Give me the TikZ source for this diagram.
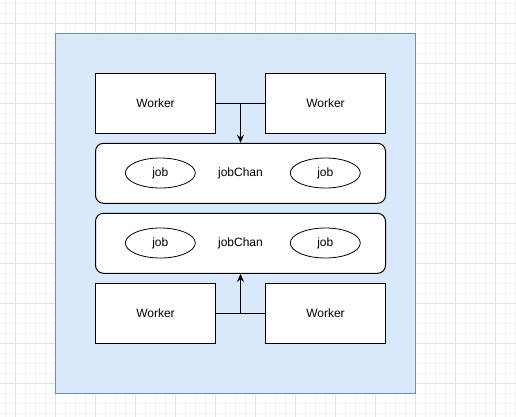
\documentclass[tikz,border=0pt]{standalone}
\usepackage{fontspec}
\setmainfont{Liberation Sans}
\usetikzlibrary{positioning,shapes.geometric,arrows.meta}

\definecolor{paneblue}{HTML}{DAE8FC}
\definecolor{paneline}{HTML}{6C8EBF}
\definecolor{gridmajor}{HTML}{E3E3E3}
\definecolor{gridminor}{HTML}{F4F4F4}

\tikzset{
  worker/.style={draw,fill=white,line width=1pt,minimum width=120pt,minimum height=60pt,font=\fontsize{12}{14}\selectfont},
  chan/.style={draw,fill=white,line width=1pt,rounded corners=8pt,minimum width=290pt,minimum height=60pt,font=\fontsize{12}{14}\selectfont},
  job/.style={draw,ellipse,fill=white,line width=0.8pt,minimum width=70pt,minimum height=30pt,inner sep=0pt,font=\fontsize{12}{14}\selectfont},
  flow/.style={line width=1pt,-{Stealth[length=8pt,width=7pt]}}
}

\begin{document}
\begin{tikzpicture}[x=1pt,y=-1pt]
\useasboundingbox (0,0) rectangle (516,417);
\fill[white] (0,0) rectangle (516,417);

% grid
\foreach \gx in {5.5,15.5,...,515.5} \draw[gridminor,line width=0.8pt] (\gx,0) -- (\gx,417);
\foreach \gy in {3.5,13.5,...,413.5} \draw[gridminor,line width=0.8pt] (0,\gy) -- (516,\gy);
\foreach \gx in {15.5,55.5,...,495.5} \draw[gridmajor,line width=0.8pt] (\gx,0) -- (\gx,417);
\foreach \gy in {23.5,63.5,...,383.5} \draw[gridmajor,line width=0.8pt] (0,\gy) -- (516,\gy);

\draw[fill=paneblue,draw=paneline,line width=1pt] (55.5,33.5) rectangle (415.5,393);

\node[worker] (w1) at (155.5,103.3) {Worker};
\node[worker] (w2) at (325.5,103.3) {Worker};
\node[chan] (ch1) at (240.5,173.3) {jobChan};
\node[job] (j1a) at (160.3,173) {job};
\node[job] (j1b) at (325.3,173) {job};

\node[chan] (ch2) at (240.5,243.3) {jobChan};
\node[job] (j2a) at (160.3,243) {job};
\node[job] (j2b) at (325.3,243) {job};
\node[worker] (w3) at (155.5,313.3) {Worker};
\node[worker] (w4) at (325.5,313.3) {Worker};

\draw[line width=1pt] (w1) -- (w2);
\draw[flow] (ch1.north |- w1.east) -- (ch1.north);
\draw[line width=1pt] (w3) -- (w4);
\draw[flow] (ch2.south |- w3.east) -- (ch2.south);

\end{tikzpicture}
\end{document}
